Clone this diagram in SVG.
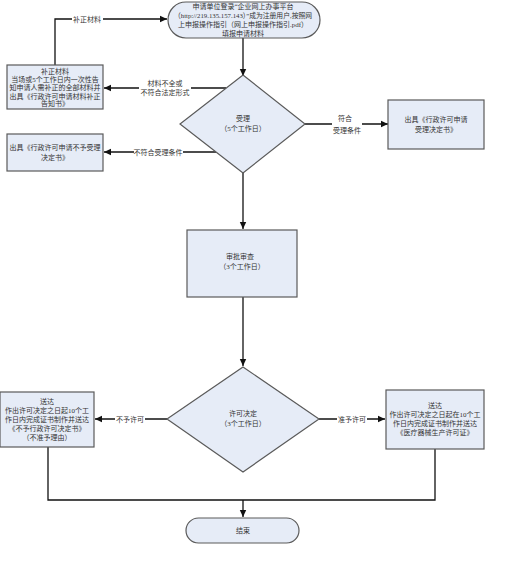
<svg xmlns="http://www.w3.org/2000/svg" width="509" height="566" viewBox="0 0 509 566">
<defs>
<style>
.n{fill:#e6ecf7;stroke:#5a5a5a;stroke-width:1.2}
.c{fill:none;stroke:#111;stroke-width:1.3}
text{font-family:"Liberation Serif","Noto Sans CJK SC",serif;font-size:7px;fill:#333;text-anchor:middle}
.bg{fill:#fff}
</style>
<marker id="a" markerWidth="8" markerHeight="8" refX="7" refY="4" orient="auto" markerUnits="userSpaceOnUse">
<path d="M0,0.8 L7,4 L0,7.2 Z" fill="#111"/>
</marker>
</defs>
<rect width="509" height="566" fill="#fff"/>
<g id="connectors">
<path class="c" d="M243,38 V76" marker-end="url(#a)"/>
<path class="c" d="M226,88 H104" marker-end="url(#a)"/>
<path class="c" d="M55,65 V19 H167" marker-end="url(#a)"/>
<path class="c" d="M305,124 H388" marker-end="url(#a)"/>
<path class="c" d="M216,152 H104" marker-end="url(#a)"/>
<path class="c" d="M243,173 V229" marker-end="url(#a)"/>
<path class="c" d="M243,297 V366" marker-end="url(#a)"/>
<path class="c" d="M167,419 H95" marker-end="url(#a)"/>
<path class="c" d="M319,419 H385" marker-end="url(#a)"/>
<path class="c" d="M48,447 V500 H435 V449"/>
<path class="c" d="M243,500 V517" marker-end="url(#a)"/>
<rect class="bg" x="72" y="14" width="31" height="10"/>
<text x="87" y="21.5">补正材料</text>
<rect class="bg" x="139" y="78" width="52" height="19"/>
<text x="165" y="85.5">材料不全或</text>
<text x="165" y="94.5">不符合法定形式</text>
<rect class="bg" x="332" y="113" width="30" height="21"/>
<text x="345" y="121">符合</text>
<text x="347" y="133">受理条件</text>
<rect class="bg" x="134" y="147" width="49" height="10"/>
<text x="158" y="154.5">不符合受理条件</text>
<rect class="bg" x="115" y="414" width="30" height="10"/>
<text x="130" y="421.5">不予许可</text>
<rect class="bg" x="337" y="414" width="30" height="10"/>
<text x="352" y="421.5">准予许可</text>
</g>
<g id="start">
<rect class="n" x="168" y="2" width="152" height="36" rx="18" ry="18"/>
<text x="243" y="9">申请单位登录“企业网上办事平台</text>
<text x="243" y="18" textLength="138" lengthAdjust="spacingAndGlyphs">（http://219.135.157.143）”成为注册用户,按照网</text>
<text x="243" y="27">上申报操作指引（网上申报操作指引.pdf）</text>
<text x="243" y="35.5">填报申请材料</text>
</g>
<g id="supplement">
<rect class="n" x="7" y="65" width="96" height="44"/>
<text x="55" y="73.5">补正材料</text>
<text x="55" y="81.5">当场或5个工作日内一次性告</text>
<text x="55" y="90">知申请人需补正的全部材料并</text>
<text x="55" y="98.5">出具《行政许可申请材料补正</text>
<text x="55" y="106">告知书》</text>
</g>
<g id="accept">
<path class="n" d="M243,75 L305,124 L243,173 L180,124 Z"/>
<text x="243" y="121">受理</text>
<text x="243" y="131">（5个工作日）</text>
</g>
<g id="accept-notice">
<rect class="n" x="388" y="100" width="96" height="49"/>
<text x="436" y="121.5">出具《行政许可申请</text>
<text x="436" y="132">受理决定书》</text>
</g>
<g id="reject-notice">
<rect class="n" x="7" y="134" width="96" height="37"/>
<text x="55" y="150">出具《行政许可申请不予受理</text>
<text x="55" y="160">决定书》</text>
</g>
<g id="review">
<rect class="n" x="187" y="230" width="110" height="67"/>
<text x="240" y="259">审批审查</text>
<text x="242" y="269">（3个工作日）</text>
</g>
<g id="decision">
<path class="n" d="M243,367 L319,419 L243,472 L167,419 Z"/>
<text x="243" y="416">许可决定</text>
<text x="243" y="426">（3个工作日）</text>
</g>
<g id="deny">
<rect class="n" x="0" y="392" width="94" height="55"/>
<text x="47" y="404">送达</text>
<text x="47" y="413">作出许可决定之日起10个工</text>
<text x="47" y="422">作日内完成证书制作并送达</text>
<text x="47" y="431">《不予行政许可决定书》</text>
<text x="47" y="440">（不准予理由）</text>
</g>
<g id="grant">
<rect class="n" x="386" y="390" width="98" height="59"/>
<text x="435" y="408">送达</text>
<text x="435" y="417">作出许可决定之日起在10个工</text>
<text x="435" y="426">作日内完成证书制作并送达</text>
<text x="435" y="435">《医疗器械生产许可证》</text>
</g>
<g id="end">
<rect class="n" x="186" y="518" width="113" height="25" rx="12.5" ry="12.5"/>
<text x="243" y="533">结束</text>
</g>
</svg>
